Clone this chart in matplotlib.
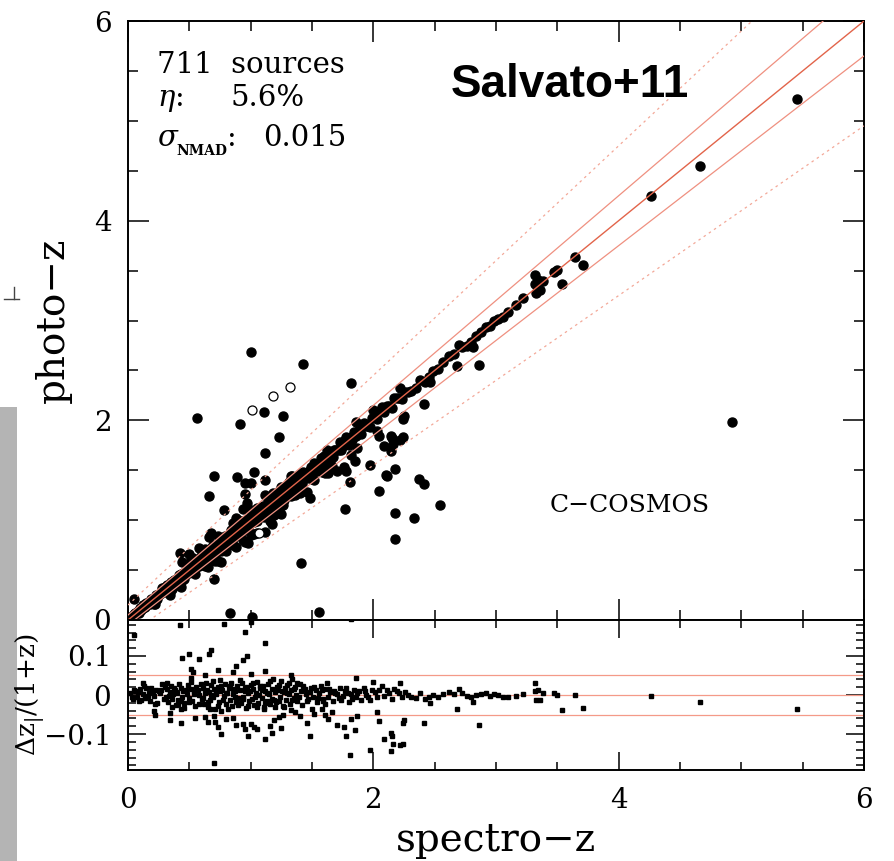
import numpy as np
import matplotlib.pyplot as plt
from matplotlib.lines import Line2D
from matplotlib.patches import Rectangle
from matplotlib.ticker import MultipleLocator

plt.rcParams['font.family'] = ['DejaVu Serif']
plt.rcParams['mathtext.fontset'] = 'dejavuserif'

# main sequence: spectro-z and dz/(1+z)
zs_core = [0.02, 0.04, 0.05, 0.07, 0.08, 0.10, 0.11, 0.12, 0.14, 0.15, 0.17, 0.18, 0.20, 0.21, 0.23, 0.24, 0.26, 0.27, 0.29, 0.30,
           0.31, 0.32, 0.33, 0.34, 0.35, 0.36, 0.37, 0.38, 0.39, 0.40, 0.41, 0.43, 0.44, 0.45, 0.46, 0.48, 0.49, 0.50, 0.51, 0.52, 0.54, 0.55, 0.57, 0.58, 0.60,
           0.61, 0.62, 0.63, 0.64, 0.65, 0.66, 0.67, 0.68, 0.69, 0.70, 0.71, 0.72, 0.73, 0.74, 0.75, 0.76, 0.77, 0.78, 0.79, 0.80, 0.81, 0.82, 0.83, 0.84, 0.85, 0.86, 0.87, 0.88, 0.89, 0.90,
           0.91, 0.92, 0.93, 0.94, 0.95, 0.96, 0.97, 0.98, 0.99, 1.00, 1.01, 1.02, 1.03, 1.04, 1.05, 1.06, 1.07, 1.08, 1.09, 1.10, 1.11, 1.12, 1.13, 1.14, 1.15, 1.16, 1.17, 1.18, 1.19, 1.20,
           1.21, 1.22, 1.23, 1.24, 1.25, 1.26, 1.27, 1.28, 1.29, 1.30, 1.31, 1.32, 1.33, 1.34, 1.35, 1.36, 1.37, 1.38, 1.40, 1.41, 1.42, 1.44, 1.45, 1.47, 1.49,
           1.51, 1.53, 1.54, 1.56, 1.57, 1.59, 1.60, 1.62, 1.63, 1.65, 1.67, 1.68, 1.70, 1.72, 1.73, 1.75, 1.77, 1.79, 1.80, 1.82, 1.84, 1.86, 1.88, 1.90, 1.92, 1.94, 1.96, 1.99,
           2.01, 2.03, 2.05, 2.07, 2.09, 2.11, 2.13, 2.15, 2.17, 2.19, 2.21, 2.23, 2.26, 2.28, 2.31, 2.35, 2.38, 2.42, 2.45, 2.49, 2.53, 2.57,
           2.62, 2.66, 2.70, 2.72, 2.76, 2.80, 2.84, 2.88, 2.92, 2.95, 2.98, 3.02, 3.06, 3.10, 3.16, 3.22]
dz_core = [0.005, -0.010, 0.012, -0.004, 0.008, 0.015, -0.012, 0.002, -0.008, 0.018, 0.006, -0.015, 0.010, -0.003, 0.014, -0.020, 0.004, 0.012, -0.010, 0.020,
           -0.005, 0.016, -0.018, 0.008, 0.024, -0.010, 0.002, 0.013, -0.025, 0.006, -0.012, 0.019, -0.004, 0.011, -0.020, 0.003, 0.026, -0.008, 0.015, -0.016, 0.007, -0.028, 0.012, 0.001, -0.011,
           0.018, -0.022, 0.004, 0.012, -0.030, 0.008, -0.014, 0.025, -0.006, 0.015, -0.035, 0.002, 0.020, -0.018, 0.009, -0.040, 0.014, -0.003, 0.028, -0.024, 0.006, 0.017, -0.012, 0.032, -0.028, 0.003, 0.011, -0.019, 0.024, -0.008,
           0.013, -0.020, 0.030, -0.005, 0.009, -0.032, 0.020, 0.004, -0.015, 0.026, -0.010, 0.015, -0.026, 0.006, 0.034, -0.020, 0.001, 0.018, -0.008, 0.022, -0.036, 0.010, -0.016, 0.028, 0.003, -0.024, 0.016, 0.040, -0.012, 0.007,
           -0.018, 0.012, 0.026, -0.004, 0.035, -0.028, 0.008, 0.019, -0.012, 0.004, 0.030, -0.022, 0.014, 0.042, -0.007, 0.020, 0.001, -0.016, 0.027, 0.009, -0.025, 0.015, 0.003, -0.010, 0.018,
           -0.006, 0.012, -0.018, 0.004, 0.022, -0.010, 0.015, 0.030, -0.004, 0.008, -0.015, 0.010, 0.002, -0.008, 0.019, -0.003, 0.011, 0.005, -0.018, 0.003, 0.014, -0.006, 0.009, -0.012, 0.017, 0.001, -0.005, 0.012,
           0.007, -0.006, 0.014, 0.022, -0.002, 0.012, 0.004, -0.009, 0.016, 0.010, 0.005, -0.004, 0.008, 0.001, -0.006, -0.008, 0.006, -0.010, -0.005, 0.001, -0.004, 0.003,
           0.008, 0.002, 0.015, 0.004, -0.003, -0.004, 0.000, 0.002, 0.004, -0.002, 0.003, -0.001, -0.006, -0.004, -0.002, 0.002]

# more of the dense band below z = 2
zs_core2 = [0.03, 0.06, 0.09, 0.13, 0.16, 0.19, 0.22, 0.25, 0.28,
            0.315, 0.335, 0.355, 0.375, 0.395, 0.415, 0.435, 0.455, 0.475, 0.495, 0.515, 0.535, 0.555, 0.575, 0.595,
            0.615, 0.635, 0.655, 0.675, 0.695, 0.715, 0.735, 0.755, 0.775, 0.795, 0.815, 0.835, 0.855, 0.875, 0.895,
            0.915, 0.935, 0.955, 0.975, 0.995, 1.015, 1.035, 1.055, 1.075, 1.095, 1.115, 1.135, 1.155, 1.175, 1.195,
            1.215, 1.235, 1.255, 1.275, 1.295, 1.315, 1.335, 1.355, 1.375, 1.395, 1.43, 1.46, 1.48, 1.52, 1.55, 1.58, 1.61, 1.64, 1.69, 1.74, 1.78, 1.83, 1.87, 1.93, 1.97]
dz_core2 = [-0.006, 0.010, -0.016, 0.022, -0.002, 0.017, -0.024, 0.009, 0.028,
            0.030, -0.002, -0.030, 0.019, 0.007, 0.028, -0.015, -0.033, 0.014, -0.019, 0.034, 0.002, 0.021, -0.024, 0.027,
            -0.008, 0.030, -0.018, 0.001, 0.036, 0.011, -0.027, 0.024, -0.012, 0.006, -0.036, 0.022, 0.015, -0.004, -0.025,
            0.038, -0.010, 0.018, -0.028, 0.011, 0.032, -0.004, -0.030, 0.024, 0.013, -0.020, 0.005, 0.036, -0.009, -0.030,
            0.020, -0.015, 0.010, -0.030, 0.025, 0.002, -0.012, 0.016, 0.030, -0.006, 0.022, -0.016, 0.008, 0.020, -0.008, 0.012, -0.022, 0.016, 0.006, -0.012, 0.018, -0.010, 0.004, 0.009, -0.014]

# scattered points visible in the lower panel
zs_scat = [0.42, 0.78, 1.00, 0.05, 0.95, 1.12, 0.44, 0.50, 0.58, 0.66, 0.68, 0.97, 0.94, 0.88, 0.86, 0.73, 0.51, 0.53, 0.63, 0.75,
           1.00, 1.12, 1.33, 0.12, 0.51,
           0.21, 0.22, 0.34, 0.34, 0.43, 0.43, 0.41, 0.55, 0.63, 0.65, 0.67, 0.70, 0.71, 0.73, 0.76, 0.80, 0.86, 0.88, 0.94, 0.95,
           0.98, 1.00, 1.03, 1.05, 1.12, 1.16, 1.17, 1.19, 1.23, 1.25, 1.26, 1.33, 1.36, 1.40, 1.46, 1.48, 1.50, 1.52, 1.59, 0.70, 1.11,
           1.86, 2.00, 2.22, 1.58, 1.61, 1.63, 1.66, 1.70, 1.76, 1.78, 1.82, 1.85, 1.87, 1.81, 1.97, 2.03, 2.05, 2.09, 2.14, 2.15,
           2.16, 2.14, 2.22, 2.24, 2.24, 2.25, 2.41, 2.46, 2.68, 2.81, 2.86]
dz_scat = [0.178, 0.181, 0.187, 0.154, 0.162, 0.133, 0.096, 0.105, 0.092, 0.106, 0.116, 0.101, 0.090, 0.073, 0.060, 0.063, 0.066, 0.058, 0.051, 0.039,
           0.053, 0.062, 0.050, 0.031, 0.043,
           -0.042, -0.050, -0.046, -0.065, -0.071, -0.037, -0.024, -0.059, -0.056, -0.070, -0.036, -0.054, -0.069, -0.082, -0.100, -0.061, -0.059, -0.078, -0.074, -0.086,
           -0.104, -0.073, -0.082, -0.086, -0.112, -0.079, -0.098, -0.065, -0.057, -0.084, -0.050, -0.038, -0.044, -0.054, -0.072, -0.104, -0.036, -0.048, -0.015, -0.173, -0.030,
           0.043, 0.033, 0.031, -0.036, -0.051, -0.061, -0.043, -0.076, -0.083, -0.104, -0.061, -0.090, -0.053, -0.153, -0.140, -0.044, -0.067, -0.113, -0.096, -0.104,
           -0.126, -0.144, -0.128, -0.126, -0.071, -0.063, -0.071, -0.021, -0.036, -0.019, -0.078]

# high-redshift sources
zs_high = [3.32, 3.32, 3.34, 3.38, 3.33, 3.36, 3.47, 3.50, 3.54, 3.64, 3.71, 4.26, 4.66, 5.45]
dz_high = [0.031, 0.010, 0.014, 0.004, -0.013, -0.012, 0.004, 0.001, -0.039, 0.000, -0.032, -0.002, -0.019, -0.036]

# catastrophic outliers (spectro-z, photo-z)
zs_out = [1.00, 1.43, 1.82, 0.56, 0.91, 1.11, 1.26, 1.23, 1.12, 0.70, 0.89, 1.03, 0.66, 1.41, 0.83, 1.01, 1.56,
          1.77, 2.05, 2.18, 2.18, 2.33, 2.54, 2.11, 2.18, 2.37, 2.41, 0.95, 2.10, 4.92]
zp_out = [2.68, 2.56, 2.37, 2.02, 1.96, 2.08, 2.04, 1.83, 1.67, 1.44, 1.43, 1.48, 1.24, 0.57, 0.07, 0.03, 0.08,
          1.11, 1.29, 1.07, 0.81, 1.02, 1.15, 1.44, 1.51, 1.41, 1.36, 1.37, 1.45, 1.98]

# open symbols
zs_open = [1.01, 1.18, 1.32, 1.07]
zp_open = [2.10, 2.24, 2.33, 0.87]

zs = np.array(zs_core + zs_core2 + zs_scat + zs_high)
dz = np.array(dz_core + dz_core2 + dz_scat + dz_high)
zp = zs + dz * (1 + zs)
zs_o = np.array(zs_out)
zp_o = np.array(zp_out)
dz_o = (zp_o - zs_o) / (1 + zs_o)

W, H = 894, 861
fig = plt.figure(figsize=(W / 100, H / 100), dpi=100)
ax = fig.add_axes([128 / W, 1 - 620 / H, 736 / W, 599 / H])
ax2 = fig.add_axes([128 / W, 1 - 770 / H, 736 / W, 150 / H])

# grey strip on the left and a stray mark
fig.add_artist(Rectangle((0, 0), 17 / W, 1 - 407 / H, transform=fig.transFigure,
                         facecolor='#b4b4b4', edgecolor='none', zorder=-1))
fig.add_artist(Line2D([14 / W, 14 / W], [1 - 287 / H, 1 - 299 / H], color='#444444', lw=1))
fig.add_artist(Line2D([4 / W, 19 / W], [1 - 299 / H, 1 - 299 / H], color='#444444', lw=1))

xx = np.array([0, 6.0])
ax.plot(xx, xx, color='#e2644a', lw=1.0, zorder=3)
for f in (0.05, -0.05):
    ax.plot(xx, xx + f * (1 + xx), color='#ef9080', lw=0.9, zorder=3)
for f in (0.15, -0.15):
    ax.plot(xx, xx + f * (1 + xx), color='#f3a898', lw=0.9, ls=(0, (2, 3)), zorder=3)

ax.plot(zs, zp, 'o', ms=6.5, color='k', zorder=2)
ax.plot(zs_o, zp_o, 'o', ms=6.5, color='k', zorder=2)
ax.plot(zs_open, zp_open, 'o', ms=6.5, mfc='white', mec='k', mew=0.9, zorder=2)

for h in (0, 0.05, -0.05):
    ax2.axhline(h, color='#f49a88', lw=0.9)
ax2.plot(zs, dz, 's', ms=2.8, color='k')
ax2.plot(zs_o, dz_o, 's', ms=2.8, color='k')

ax.set_xlim(0, 6)
ax.set_ylim(0, 6)
ax2.set_xlim(0, 6)
ax2.set_ylim(-0.192, 0.192)

for a in (ax, ax2):
    a.xaxis.set_major_locator(MultipleLocator(2))
    a.xaxis.set_minor_locator(MultipleLocator(0.5))
    a.tick_params(which='both', direction='in', top=True, right=True,
                  width=1.1, labelsize=20, pad=12)
    for s in a.spines.values():
        s.set_linewidth(1.4)
ax.yaxis.set_major_locator(MultipleLocator(2))
ax.yaxis.set_minor_locator(MultipleLocator(0.5))
ax.tick_params(which='major', length=15)
ax.tick_params(which='minor', length=7.5)
ax.tick_params(labelbottom=False)
ax2.yaxis.set_major_locator(MultipleLocator(0.1))
ax2.yaxis.set_minor_locator(MultipleLocator(0.02))
ax2.tick_params(which='major', length=13)
ax2.tick_params(which='minor', length=6)
ax2.set_yticks([-0.1, 0, 0.1])
ax2.set_yticklabels(['\u22120.1', '0', '0.1'])
ax.set_yticks([0, 2, 4, 6])
ax.set_yticklabels(['0', '2', '4', '6'])
ax2.set_xticks([0, 2, 4, 6])
ax2.set_xticklabels(['0', '2', '4', '6'])

ax.set_ylabel('photo\u2212z', fontsize=28)
ax.yaxis.set_label_coords(-0.076, 0.5)
ax2.set_ylabel(r'$\Delta$z$_{\rm |}$/(1+z)', fontsize=19)
ax2.yaxis.set_label_coords(-0.110, 0.5)
ax2.set_xlabel('spectro\u2212z', fontsize=28)
ax2.xaxis.set_label_coords(0.5, -0.345)

tk = dict(transform=ax.transAxes, fontsize=21, va='baseline')
ax.text(0.039, 0.913, '711  sources', **tk)
ax.text(0.039, 0.858, r'$\eta$:', **tk)
ax.text(0.139, 0.858, '5.6%', **tk)
ax.text(0.039, 0.791, r'$\sigma$', **tk)
ax.text(0.066, 0.776, 'NMAD', transform=ax.transAxes, fontsize=10, fontweight='bold', va='baseline')
ax.text(0.1345, 0.791, ':', **tk)
ax.text(0.184, 0.791, '0.015', **tk)
ax.text(0.60, 0.873, 'Salvato+11', transform=ax.transAxes, fontsize=33, fontweight='bold',
        family=['Liberation Sans', 'DejaVu Sans'], ha='center', va='baseline')
ax.text(0.573, 0.180, 'C\u2212COSMOS', transform=ax.transAxes, fontsize=18, va='baseline')

fig.savefig('out.png', dpi=100)
